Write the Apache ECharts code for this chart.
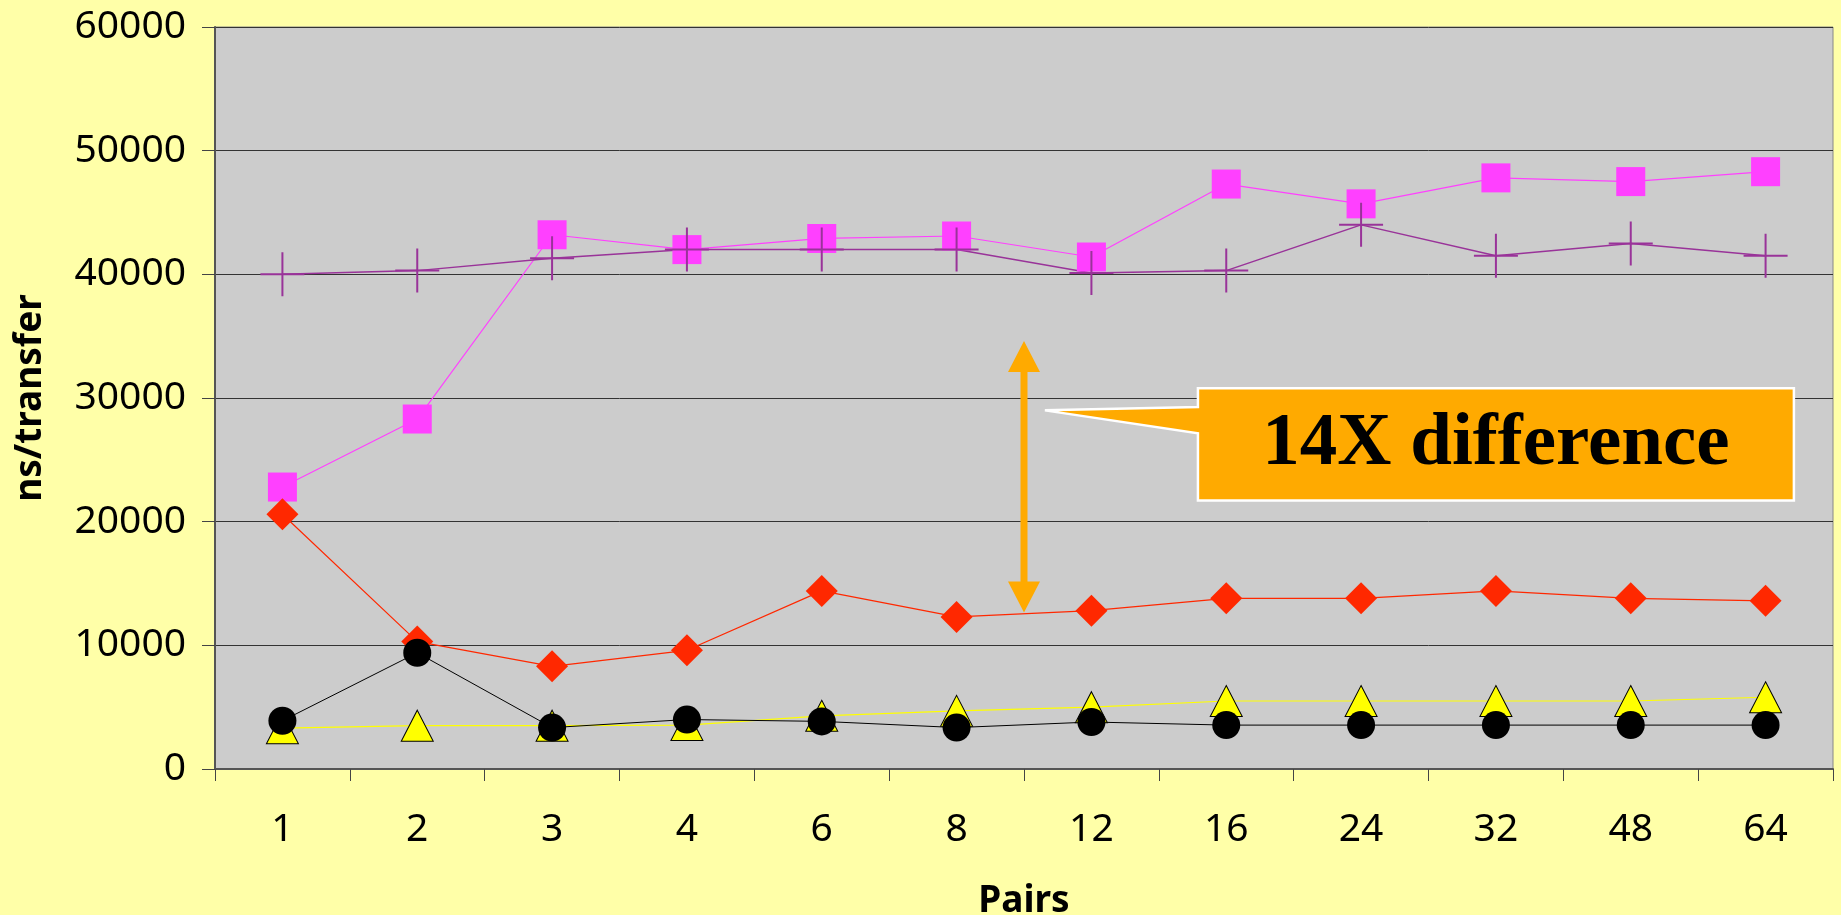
<!DOCTYPE html>
<html>
<head>
<meta charset="utf-8">
<script src="https://cdn.jsdelivr.net/npm/echarts@6/dist/echarts.min.js"></script>
<style>
html,body{margin:0;padding:0;background:#FFFFA8;}
#c{width:1841px;height:915px;}
</style>
</head>
<body>
<div id="c"></div>
<script>
const categories = ['1','2','3','4','6','8','12','16','24','32','48','64'];
const yTicks = [0, 10000, 20000, 30000, 40000, 50000, 60000];
const pinkSquares = [22800, 28300, 43200, 42000, 42900, 43100, 41400, 47300, 45700, 47800, 47500, 48300];
const purpleCrosses = [40000, 40300, 41300, 42000, 42000, 42000, 40100, 40300, 44000, 41500, 42500, 41500];
const redDiamonds = [20600, 10300, 8300, 9600, 14400, 12300, 12800, 13800, 13800, 14400, 13800, 13600];
const yellowTriangles = [3300, 3500, 3500, 3550, 4300, 4700, 5000, 5500, 5500, 5500, 5500, 5800];
const blackCircles = [3900, 9400, 3350, 4000, 3850, 3350, 3800, 3550, 3550, 3550, 3550, 3550];
const calloutText = '14X difference';

const chart = echarts.init(document.getElementById('c'), null, {renderer: 'canvas'});
const crossPath = 'path://M21,0 h2 v21 h21 v2 h-21 v21 h-2 v-21 h-21 v-2 h21 z';
const FONT = 'Noto Sans';

const option = {
  animation: false,
  backgroundColor: '#FFFFA8',
  grid: {left: 215, top: 27, right: 8, bottom: 146, show: true, backgroundColor: '#CCCCCC', borderColor: '#888888', borderWidth: 1,
    containLabel: false, outerBoundsMode: 'none'},
  xAxis: {
    type: 'category',
    data: categories,
    boundaryGap: true,
    name: 'Pairs',
    nameLocation: 'middle',
    nameGap: 114,
    nameTextStyle: {fontFamily: FONT, fontWeight: 'bold', fontSize: 37, color: '#000'},
    axisLine: {show: true, lineStyle: {color: '#555555', width: 2}},
    axisTick: {show: true, inside: false, length: 12, interval: 0, alignWithLabel: false, lineStyle: {color: '#444444', width: 1}},
    axisLabel: {margin: 41, fontFamily: FONT, fontSize: 39, color: '#000', interval: 0},
    splitLine: {show: false}
  },
  yAxis: {
    type: 'value',
    min: 0, max: 60000, interval: 10000,
    name: 'ns/transfer',
    nameLocation: 'middle',
    nameGap: 166,
    nameRotate: 90,
    nameTextStyle: {fontFamily: FONT, fontWeight: 'bold', fontSize: 37, color: '#000'},
    axisLine: {show: true, lineStyle: {color: '#555555', width: 2}},
    axisTick: {show: true, inside: false, length: 13, lineStyle: {color: '#444444', width: 1}},
    axisLabel: {margin: 29, fontFamily: FONT, fontSize: 39, color: '#000',
      formatter: function (v) { return yTicks.indexOf(v) >= 0 ? String(v) : ''; }},
    splitLine: {show: true, lineStyle: {color: '#333333', width: 1}}
  },
  series: [
    {name: 'pink', type: 'line', data: pinkSquares, symbol: 'rect', symbolSize: 29,
      lineStyle: {color: '#FF40FF', width: 1.2}, itemStyle: {color: '#FF40FF', borderWidth: 0}, emphasis: {disabled: true}},
    {name: 'purple', type: 'line', data: purpleCrosses, symbol: crossPath, symbolSize: 44,
      lineStyle: {color: '#993399', width: 1.5}, itemStyle: {color: '#993399', borderWidth: 0}, emphasis: {disabled: true}},
    {name: 'red', type: 'line', data: redDiamonds, symbol: 'diamond', symbolSize: [32, 32],
      lineStyle: {color: '#FF2800', width: 1.2}, itemStyle: {color: '#FF2800', borderWidth: 0}, emphasis: {disabled: true}},
    {name: 'yellow', type: 'line', data: yellowTriangles, symbol: 'triangle', symbolSize: [32, 31],
      lineStyle: {color: '#FFFF00', width: 1.2}, itemStyle: {color: '#FFFF00', borderColor: '#000', borderWidth: 1}, emphasis: {disabled: true}},
    {name: 'black', type: 'line', data: blackCircles, symbol: 'circle', symbolSize: 28,
      lineStyle: {color: '#000000', width: 1}, itemStyle: {color: '#000000', borderWidth: 0}, emphasis: {disabled: true}}
  ]
};
chart.setOption(option);

// annotation helper: position f measured in category bands from the grid's left edge, plus a value -> pixel
function px(f, value) {
  const p0 = chart.convertToPixel({gridIndex: 0}, [0, value]);
  const p1 = chart.convertToPixel({gridIndex: 0}, [1, value]);
  const bw = p1[0] - p0[0];
  return [p0[0] + (f - 0.5) * bw, p0[1]];
}
// double arrow on the boundary between "8" and "12"
const arrowTop = px(6.0, 34600);
const arrowBot = px(6.0, 12650);
const ax = arrowTop[0], yt = arrowTop[1], yb = arrowBot[1];
const hw = 16, hh = 31, sw = 3.5;
const arrowPts = [
  [ax, yt], [ax + hw, yt + hh], [ax + sw, yt + hh], [ax + sw, yb - hh], [ax + hw, yb - hh],
  [ax, yb], [ax - hw, yb - hh], [ax - sw, yb - hh], [ax - sw, yt + hh], [ax - hw, yt + hh]
];

// callout box
const bl = px(7.29, 30790)[0], br = px(11.71, 30790)[0];
const bt = px(7.29, 30790)[1], bb = px(7.29, 21720)[1];
const tip = px(6.155, 29000);
const attTop = px(7.29, 29270)[1], attBot = px(7.29, 27140)[1];
const calloutPts = [
  [bl, bt], [br, bt], [br, bb], [bl, bb], [bl, attBot], tip, [bl, attTop]
];

chart.setOption({
  graphic: [
    {type: 'polygon', shape: {points: arrowPts}, style: {fill: '#FFAA00'}, z: 100},
    {type: 'polygon', shape: {points: calloutPts}, style: {fill: '#FFAA00', stroke: '#FFFFFF', lineWidth: 2.5, lineJoin: 'miter'}, z: 100},
    {type: 'text', x: (bl + br) / 2, y: (bt + bb) / 2, z: 101,
      style: {text: calloutText, fill: '#000', fontSize: 75, fontWeight: 'bold', fontFamily: 'Liberation Serif',
        align: 'center', verticalAlign: 'middle'}}
  ]
});
</script>
</body>
</html>
